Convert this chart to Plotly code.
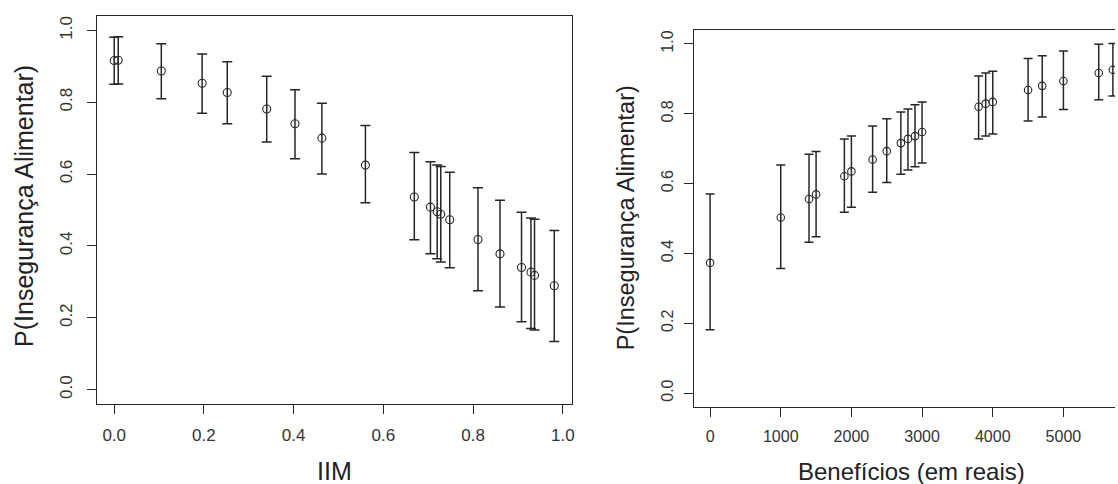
import plotly.graph_objects as go

# ---- Left panel: P(Insegurança Alimentar) vs IIM ----
iim_x = [0.000, 0.009, 0.105, 0.196, 0.252, 0.340, 0.403, 0.463, 0.560, 0.669,
         0.705, 0.720, 0.728, 0.748, 0.811, 0.860, 0.908, 0.929, 0.937, 0.981]
iim_p = [0.916, 0.917, 0.887, 0.853, 0.827, 0.781, 0.740, 0.700, 0.625, 0.536,
         0.508, 0.495, 0.488, 0.473, 0.418, 0.378, 0.340, 0.327, 0.318, 0.289]
iim_lo = [0.850, 0.851, 0.810, 0.769, 0.740, 0.689, 0.643, 0.600, 0.520, 0.417,
          0.378, 0.364, 0.355, 0.339, 0.275, 0.230, 0.189, 0.170, 0.166, 0.134]
iim_hi = [0.981, 0.982, 0.963, 0.934, 0.913, 0.872, 0.835, 0.797, 0.735, 0.660,
          0.634, 0.625, 0.621, 0.605, 0.562, 0.527, 0.494, 0.478, 0.474, 0.443]

# ---- Right panel: P(Insegurança Alimentar) vs Benefícios ----
ben_x = [0, 1000, 1400, 1500, 1900, 2000, 2300, 2500, 2700, 2800,
         2900, 3000, 3800, 3900, 4000, 4500, 4700, 5000, 5500, 5700]
ben_p = [0.373, 0.503, 0.556, 0.569, 0.621, 0.635, 0.669, 0.693, 0.716, 0.728,
         0.736, 0.748, 0.820, 0.829, 0.834, 0.868, 0.880, 0.894, 0.917, 0.926]
ben_lo = [0.181, 0.357, 0.432, 0.448, 0.518, 0.532, 0.575, 0.603, 0.627, 0.639,
          0.648, 0.659, 0.728, 0.736, 0.742, 0.779, 0.791, 0.812, 0.840, 0.851]
ben_hi = [0.570, 0.653, 0.684, 0.692, 0.728, 0.736, 0.765, 0.786, 0.805, 0.814,
          0.826, 0.834, 0.908, 0.917, 0.922, 0.958, 0.966, 0.980, 0.999, 1.001]

y_ticks = [0.0, 0.2, 0.4, 0.6, 0.8, 1.0]
iim_ticks = [0.0, 0.2, 0.4, 0.6, 0.8, 1.0]
ben_ticks = [0, 1000, 2000, 3000, 4000, 5000]

FONT = "Arial, Liberation Sans, sans-serif"
LINE = "#262626"
TXT = "#333333"

fig = go.Figure()

fig.add_trace(go.Scatter(
    x=iim_x, y=iim_p, mode="markers", xaxis="x", yaxis="y",
    marker=dict(symbol="circle-open", size=8, color=LINE, line=dict(width=1.1)),
    error_y=dict(type="data", symmetric=False,
                 array=[h - p for h, p in zip(iim_hi, iim_p)],
                 arrayminus=[p - l for p, l in zip(iim_p, iim_lo)],
                 color=LINE, thickness=1.5, width=5),
    showlegend=False, hoverinfo="skip"))

fig.add_trace(go.Scatter(
    x=ben_x, y=ben_p, mode="markers", xaxis="x2", yaxis="y2",
    marker=dict(symbol="circle-open", size=7.5, color=LINE, line=dict(width=1.1)),
    error_y=dict(type="data", symmetric=False,
                 array=[h - p for h, p in zip(ben_hi, ben_p)],
                 arrayminus=[p - l for p, l in zip(ben_p, ben_lo)],
                 color=LINE, thickness=1.5, width=4.5),
    showlegend=False, hoverinfo="skip"))

W, H = 1118, 484


def ax(domain, rng, tickvals, ticktext, fs, anchor, mirror, angle=0, standoff=6):
    return dict(domain=domain, range=rng, anchor=anchor, tickvals=tickvals,
                ticktext=ticktext, showgrid=False, zeroline=False,
                showline=True, linecolor=LINE, linewidth=1.3, mirror=mirror,
                ticks="outside", ticklen=9, tickwidth=1.2, tickcolor=LINE,
                tickangle=angle, ticklabelstandoff=standoff,
                tickfont=dict(family=FONT, size=fs, color=TXT))


fig.update_layout(
    width=W, height=H, autosize=False,
    margin=dict(l=0, r=0, t=0, b=0),
    paper_bgcolor="white", plot_bgcolor="white",
    xaxis=ax([97.5 / W, 573.3 / W], [-0.0378, 1.02], iim_ticks,
             [f"{v:.1f}" for v in iim_ticks], 17, "y", True, standoff=6),
    yaxis=ax([(H - 404) / H, (H - 16) / H], [-0.04, 1.04], y_ticks,
             [f"{v:.1f}" for v in y_ticks], 17, "x", True, angle=-90, standoff=8),
    xaxis2=ax([695.7 / W, 1.0], [-230, 5730], ben_ticks,
              [str(v) for v in ben_ticks], 16, "y2", True, standoff=6),
    yaxis2=ax([(H - 407) / H, (H - 30) / H], [-0.04, 1.04], y_ticks,
              [f"{v:.1f}" for v in y_ticks], 16, "x2", False, angle=-90, standoff=4),
    annotations=[
        dict(text="P(Insegurança Alimentar)", x=24 / W, y=(H - 206) / H,
             xref="paper", yref="paper", textangle=-90, showarrow=False,
             xanchor="center", yanchor="middle",
             font=dict(family=FONT, size=25, color="#222222")),
        dict(text="IIM", x=335 / W, y=(H - 471) / H, xref="paper", yref="paper",
             showarrow=False, xanchor="center", yanchor="middle",
             font=dict(family=FONT, size=25, color="#222222")),
        dict(text="P(Insegurança Alimentar)", x=628 / W, y=(H - 218) / H,
             xref="paper", yref="paper", textangle=-90, showarrow=False,
             xanchor="center", yanchor="middle",
             font=dict(family=FONT, size=23.5, color="#222222")),
        dict(text="Benefícios (em reais)", x=914 / W, y=(H - 471) / H,
             xref="paper", yref="paper", showarrow=False,
             xanchor="center", yanchor="middle",
             font=dict(family=FONT, size=24, color="#222222")),
    ],
)

fig.write_html(
    "out.html",
    config={"displayModeBar": False},
    post_script="document.body.style.margin='0';document.body.style.overflow='hidden';",
)
